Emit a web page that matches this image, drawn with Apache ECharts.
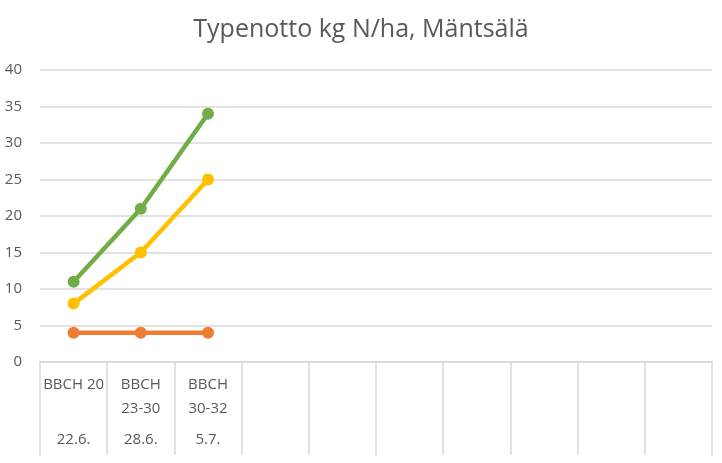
<!DOCTYPE html>
<html>
<head>
<meta charset="utf-8">
<script src="https://cdn.jsdelivr.net/npm/echarts@6/dist/echarts.min.js"></script>
<style>html,body{margin:0;padding:0;background:#fff}#c{width:722px;height:463px}</style>
</head>
<body>
<div id="c"></div>
<script>
const categories = ['BBCH 20', 'BBCH\n23-30', 'BBCH\n30-32', '', '', '', '', '', '', ''];
const dates = ['22.6.', '28.6.', '5.7.', '', '', '', '', '', '', ''];
const seriesGreen = [11, 21, 34];
const seriesYellow = [8, 15, 25];
const seriesOrange = [4, 4, 4];
const yTicks = { min: 0, max: 40, interval: 5 };

const FONT = "'Open Sans', sans-serif";
const chart = echarts.init(document.getElementById('c'), null, { renderer: 'canvas' });
function line(name, data, color) {
  return {
    name, type: 'line', data, xAxisIndex: 0,
    lineStyle: { color, width: 4.5 }, itemStyle: { color },
    symbol: 'circle', symbolSize: 12, animation: false
  };
}
chart.setOption({
  animation: false,
  title: {
    text: 'Typenotto kg N/ha, Mäntsälä', left: 'center', top: 12,
    textStyle: { fontFamily: FONT, fontSize: 25, fontWeight: 'normal', color: '#595959' }
  },
  grid: { left: 40, right: 10, top: 70, bottom: 101 },
  xAxis: [{
    type: 'category', data: categories, boundaryGap: true,
    axisLine: { lineStyle: { color: '#d9d9d9', width: 1.5 } },
    axisTick: { show: true, interval: 0, length: 93, lineStyle: { color: '#d9d9d9', width: 1.5 } },
    axisLabel: { interval: 0, margin: 11, color: '#595959', fontFamily: FONT, fontSize: 15, lineHeight: 24, verticalAlign: 'top' }
  }, {
    type: 'category', data: dates, position: 'bottom', boundaryGap: true,
    axisLine: { show: false }, axisTick: { show: false },
    axisLabel: { interval: 0, margin: 69, color: '#595959', fontFamily: FONT, fontSize: 15, lineHeight: 17, verticalAlign: 'top' }
  }],
  yAxis: {
    type: 'value', min: yTicks.min, max: yTicks.max, interval: yTicks.interval,
    axisLine: { show: false }, axisTick: { show: false },
    splitLine: { lineStyle: { color: '#d9d9d9', width: 1.5 } },
    axisLabel: { color: '#595959', fontFamily: FONT, fontSize: 15, margin: 18 }
  },
  series: [
    line('Orange', seriesOrange, '#ED7D31'),
    line('Yellow', seriesYellow, '#FFC000'),
    line('Green', seriesGreen, '#70AD47')
  ]
});
</script>
</body>
</html>
